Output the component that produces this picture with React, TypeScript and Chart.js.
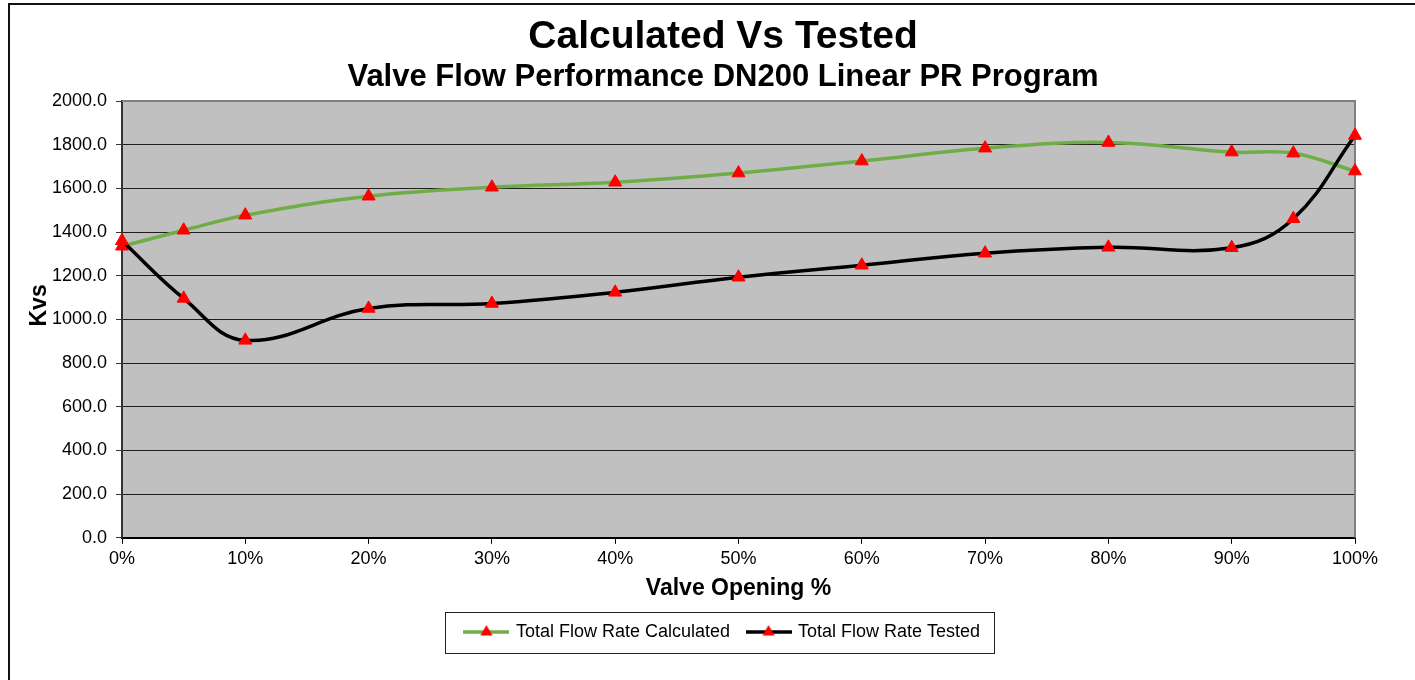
import React, { useEffect, useRef } from "react";
import { Chart, registerables } from "chart.js";

Chart.register(...registerables);

const openings = [0, 5, 10, 20, 30, 40, 50, 60, 70, 80, 90, 95, 100];
const calculated = [1335, 1408, 1477, 1564, 1605, 1628, 1670, 1725, 1784, 1810, 1766, 1761, 1679];
const tested = [1360, 1096, 904, 1050, 1073, 1124, 1193, 1248, 1303, 1330, 1328, 1461, 1842];
const seriesNames = ["Total Flow Rate Calculated", "Total Flow Rate Tested"];
const seriesColors = ["#71ad47", "#000000"];
const markerColor = "#ff0000";
const titleText = "Calculated Vs Tested";
const subtitleText = "Valve Flow Performance DN200 Linear PR Program";
const xTitle = "Valve Opening %";
const yTitle = "Kvs";
const yMin = 0;
const yMax = 2000;
const yStep = 200;
const xMin = 0;
const xMax = 100;
const xStep = 10;

const FONT = "'Liberation Sans', Arial, Helvetica, sans-serif";

function legendSwatch(color: string) {
  const c = document.createElement("canvas");
  c.width = 46;
  c.height = 16;
  const g = c.getContext("2d")!;
  g.strokeStyle = color;
  g.lineWidth = 3.5;
  g.beginPath();
  g.moveTo(0, 8);
  g.lineTo(46, 8);
  g.stroke();
  g.fillStyle = markerColor;
  const r = 7;
  g.beginPath();
  g.moveTo(23, 8 - r);
  g.lineTo(23 + r * 0.866, 8 + r * 0.5);
  g.lineTo(23 - r * 0.866, 8 + r * 0.5);
  g.closePath();
  g.fill();
  return c;
}

const framePlugin = {
  id: "framePlugin",
  beforeDraw(chart: any) {
    const { ctx, chartArea: a } = chart;
    ctx.save();
    ctx.fillStyle = "#c0c0c0";
    ctx.fillRect(a.left, a.top, a.right - a.left, a.bottom - a.top);
    ctx.restore();
  },
  beforeDatasetsDraw(chart: any) {
    const { ctx, chartArea: a } = chart;
    ctx.save();
    ctx.strokeStyle = "#808080";
    ctx.lineWidth = 2;
    ctx.beginPath();
    ctx.moveTo(a.left, a.top);
    ctx.lineTo(a.right, a.top);
    ctx.lineTo(a.right, a.bottom);
    ctx.stroke();
    ctx.restore();
  },
  afterDraw(chart: any) {
    const { ctx, chartArea: a } = chart;
    // y axis title
    const ys = chart.scales.y;
    ctx.save();
    ctx.translate(ys.left + 30, (a.top + a.bottom) / 2 - 14);
    ctx.rotate(-Math.PI / 2);
    ctx.fillStyle = "#000";
    ctx.font = `bold 23px ${FONT}`;
    ctx.textAlign = "center";
    ctx.textBaseline = "middle";
    ctx.fillText(yTitle, 0, 0);
    ctx.restore();

    const lg = chart.legend;
    if (!lg || !lg.legendHitBoxes || !lg.legendHitBoxes.length) return;
    const hb = lg.legendHitBoxes;
    const first = hb[0];
    const last = hb[hb.length - 1];
    const cy = first.top + first.height / 2;
    const left = Math.round(first.left - 21) + 0.5;
    const right = Math.round(last.left + last.width + 14) + 0.5;
    const top = Math.round(cy - 20.5) + 0.5;
    const bottom = Math.round(cy + 20.5) + 0.5;
    ctx.save();
    ctx.strokeStyle = "#222";
    ctx.lineWidth = 1;
    ctx.strokeRect(left, top, right - left, bottom - top);
    ctx.restore();
  },
};

export default function App() {
  const ref = useRef<HTMLCanvasElement>(null);

  useEffect(() => {
    document.documentElement.style.overflow = "hidden";
    const swatches = seriesColors.map((c) => legendSwatch(c));
    const chart = new Chart(ref.current!, {
      type: "line",
      data: {
        datasets: [
          {
            label: seriesNames[0],
            data: openings.map((x, i) => ({ x, y: calculated[i] })),
            borderColor: seriesColors[0],
            borderWidth: 3.5,
            tension: 0.4,
            fill: false,
            pointStyle: "triangle",
            pointRadius: 7.5,
            pointBackgroundColor: markerColor,
            pointBorderColor: markerColor,
            pointBorderWidth: 1,
            clip: false,
            order: 1,
          },
          {
            label: seriesNames[1],
            data: openings.map((x, i) => ({ x, y: tested[i] })),
            borderColor: seriesColors[1],
            borderWidth: 3.5,
            tension: 0.4,
            fill: false,
            pointStyle: "triangle",
            pointRadius: 7.5,
            pointBackgroundColor: markerColor,
            pointBorderColor: markerColor,
            pointBorderWidth: 1,
            clip: false,
            order: 0,
          },
        ],
      },
      options: {
        responsive: false,
        animation: false,
        layout: { padding: { left: 0, right: 0, top: 0, bottom: 29 } },
        scales: {
          x: {
            type: "linear",
            min: xMin,
            max: xMax,
            grid: {
              drawOnChartArea: false,
              drawTicks: true,
              tickLength: 6,
              tickColor: "#000",
              tickWidth: 1,
            },
            border: { display: true, color: "#000", width: 2 },
            ticks: {
              stepSize: xStep,
              autoSkip: false,
              maxRotation: 0,
              padding: 4,
              color: "#000",
              font: { family: FONT, size: 18 },
              callback: (v: any) => `${v}%`,
            },
            title: {
              display: true,
              text: xTitle,
              color: "#000",
              font: { family: FONT, size: 23, weight: "bold", lineHeight: 1.2 },
              padding: { top: 1, bottom: 3 },
            },
          },
          y: {
            type: "linear",
            position: "left",
            min: yMin,
            max: yMax,
            afterFit: (s: any) => {
              s.width = 112;
            },
            grid: {
              color: (c: any) => (c.tick && c.tick.value === yMax ? "rgba(0,0,0,0)" : "#1e1e1e"),
              lineWidth: 1,
              drawTicks: true,
              tickLength: 6,
              tickColor: "#333",
            },
            border: { display: true, color: "#333", width: 2 },
            ticks: {
              stepSize: yStep,
              padding: 9,
              color: "#000",
              font: { family: FONT, size: 18 },
              callback: (v: any) => Number(v).toFixed(1),
            },
            title: { display: false, text: yTitle },
          },
          yRight: {
            type: "linear",
            position: "right",
            display: true,
            afterFit: (s: any) => {
              s.width = 81;
            },
            grid: { display: false, drawTicks: false },
            border: { display: false },
            ticks: { display: false },
          },
        },
        plugins: {
          title: {
            display: true,
            text: titleText,
            color: "#000",
            font: { family: FONT, size: 39, weight: "bold", lineHeight: 1.0 },
            padding: { top: 13, bottom: 0 },
          },
          subtitle: {
            display: true,
            text: subtitleText,
            color: "#000",
            font: { family: FONT, size: 31, weight: "bold", lineHeight: 1.0 },
            padding: { top: 5, bottom: 8 },
          },
          legend: {
            display: true,
            position: "bottom",
            labels: {
              usePointStyle: true,
              pointStyleWidth: 41,
              padding: 18,
              color: "#000",
              font: { family: FONT, size: 18 },
              generateLabels: () =>
                seriesNames.map((name, i) => ({
                  text: name,
                  pointStyle: swatches[i] as any,
                  fillStyle: seriesColors[i],
                  strokeStyle: seriesColors[i],
                  lineWidth: 0,
                  hidden: false,
                  datasetIndex: i,
                  fontColor: "#000",
                })),
            },
          },
          tooltip: { enabled: false },
        },
      },
      plugins: [framePlugin],
    } as any);
    return () => chart.destroy();
  }, []);

  return (
    <div
      style={{
        position: "absolute",
        left: 8,
        top: 3,
        width: 1426,
        height: 675,
        borderLeft: "2px solid #111",
        borderTop: "2px solid #111",
        background: "#fff",
      }}
    >
      <canvas ref={ref} width={1426} height={675} style={{ display: "block", width: 1426, height: 675 }} />
    </div>
  );
}
